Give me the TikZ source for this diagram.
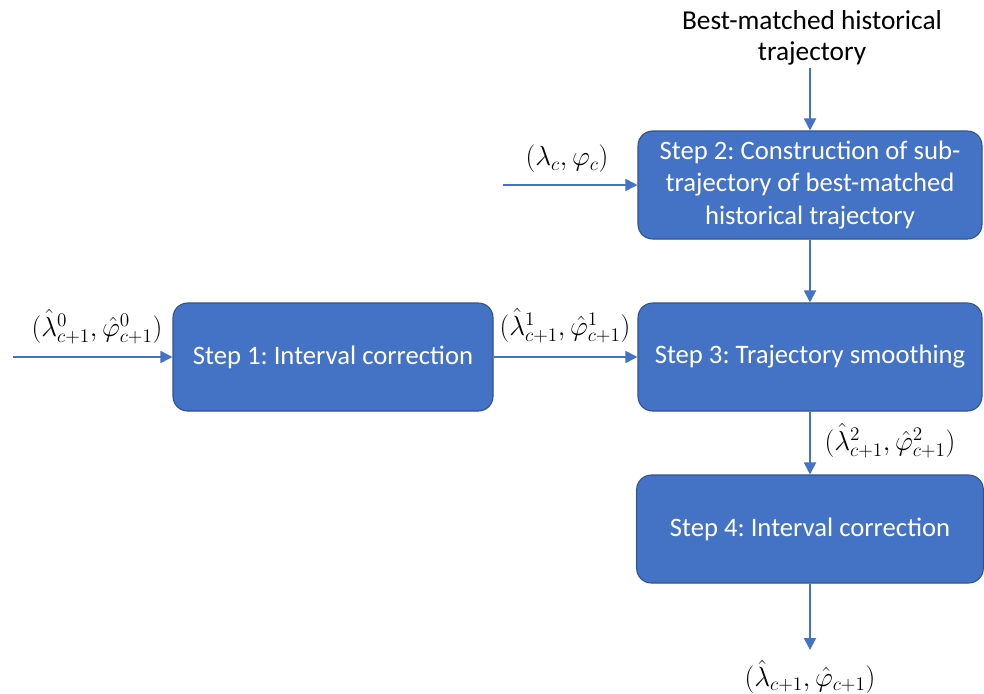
\documentclass[tikz,border=0pt]{standalone}
\usepackage{fontspec}
\setmainfont{Carlito}
\usetikzlibrary{arrows.meta}
\definecolor{boxblue}{HTML}{4472C4}
\definecolor{boxedge}{HTML}{2F528F}
\frenchspacing
\begin{document}
\begin{tikzpicture}[x=0.75pt,y=-0.75pt,
  stepbox/.style={draw=boxedge, line width=0.8pt, fill=boxblue, rounded corners=11pt,
    text=white, font=\fontsize{20}{24.5}\selectfont, align=center, inner sep=0pt,
    minimum height=81pt},
  flow/.style={draw=boxblue, line width=1.3pt, -{Triangle[length=9pt,width=9pt]}},
  lbl/.style={font=\fontsize{20.5}{23}\selectfont, align=center, inner sep=0pt},
  mlbl/.style={font=\fontsize{21}{24}\selectfont, inner sep=0pt}]
\useasboundingbox (0,0) rectangle (984,693);
\node[stepbox, minimum width=240pt] (b1) at (333,357) {Step 1: Interval correction};
\node[stepbox, minimum width=258pt] (b2) at (810,185) {Step 2: Construction of sub-\\trajectory of best-matched\\historical trajectory};
\node[stepbox, minimum width=258pt] (b3) at (810,357) {Step 3: Trajectory smoothing};
\node[stepbox, minimum width=260pt] (b4) at (810,529) {Step 4: Interval correction};
\node[lbl] (top) at (812,38) {Best-matched historical\\trajectory};
\node[mlbl] (l2) at (567,159) {$(\lambda_c,\varphi_c)$};
\node[mlbl] (l0) at (97,327) {$(\hat{\lambda}^0_{c+1},\hat{\varphi}^0_{c+1})$};
\node[mlbl] (l1) at (565,326) {$(\hat{\lambda}^1_{c+1},\hat{\varphi}^1_{c+1})$};
\node[mlbl] (l3) at (890,441) {$(\hat{\lambda}^2_{c+1},\hat{\varphi}^2_{c+1})$};
\node[mlbl] (l4) at (810,677) {$(\hat{\lambda}_{c+1},\hat{\varphi}_{c+1})$};
\coordinate (topsrc) at (810,68);
\coordinate (in2) at (503,185);
\coordinate (in1) at (13,357);
\coordinate (out) at (810,650);
\draw[flow] (topsrc) -- (b2.north);
\draw[flow] (in2) -- (b2.west);
\draw[flow] (b2.south) -- (b3.north);
\draw[flow] (in1) -- (b1.west);
\draw[flow] (b1.east) -- (b3.west);
\draw[flow] (b3.south) -- (b4.north);
\draw[flow] (b4.south) -- (out);
\end{tikzpicture}
\end{document}
